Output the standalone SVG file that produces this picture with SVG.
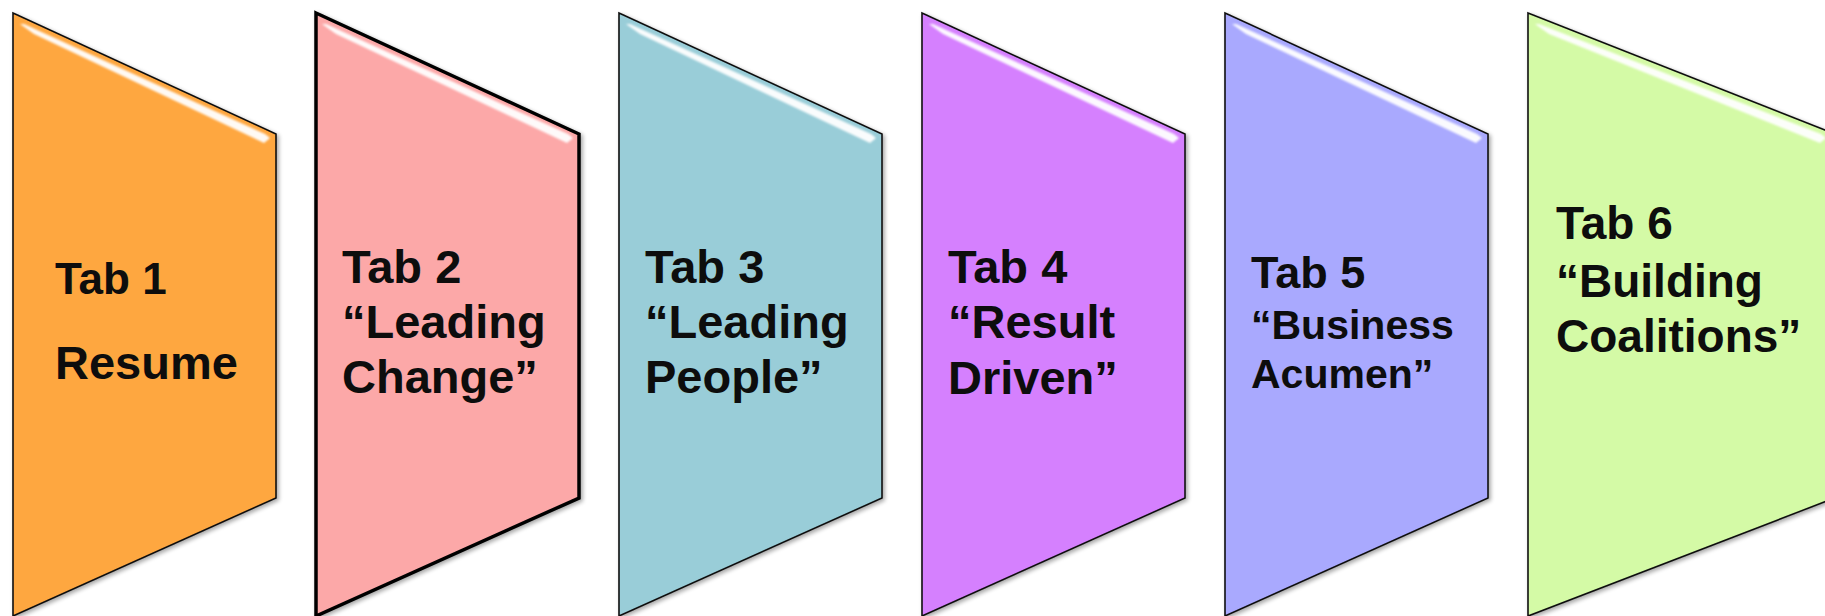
<svg xmlns="http://www.w3.org/2000/svg" width="1825" height="616" viewBox="0 0 1825 616">
  <defs>
    <filter id="shadow" x="-10%" y="-10%" width="120%" height="120%">
      <feGaussianBlur in="SourceAlpha" stdDeviation="2"/>
      <feOffset dx="2" dy="2" result="off"/>
      <feComponentTransfer><feFuncA type="linear" slope="0.35"/></feComponentTransfer>
      <feMerge><feMergeNode/><feMergeNode in="SourceGraphic"/></feMerge>
    </filter>
    <filter id="soft" x="-5%" y="-50%" width="110%" height="200%">
      <feGaussianBlur stdDeviation="1.2"/>
    </filter>
  </defs>
  <style>
    .panel { stroke: #111; stroke-width: 1.6; stroke-linejoin: miter; }
    .bold-edge { stroke: #000; stroke-width: 3.5; }
    .gloss { fill: #ffffff; opacity: 0.95; }
    .label { font-family: "Liberation Sans", Arial, sans-serif; font-weight: bold; fill: #0d0d0d; }
  </style>

  <rect width="1825" height="616" fill="#ffffff"/>

  <!-- Tab 1 -->
  <g id="tab1">
    <polygon class="panel" filter="url(#shadow)" fill="#FEA741" points="13,13 276,134 276,498 13,616"/>
    <polygon class="gloss" filter="url(#soft)" points="20,24 34,34 264,143 270,138 265,134 24,24"/>
    <text class="label" font-size="44" x="55" y="294">Tab 1</text>
    <text class="label" font-size="47" x="55" y="379">Resume</text>
  </g>

  <!-- Tab 2 -->
  <g id="tab2">
    <polygon class="panel bold-edge" filter="url(#shadow)" fill="#FCA8A8" points="316,13 579,134 579,498 316,616"/>
    <polygon class="gloss" filter="url(#soft)" points="322,24 336,34 567,143 573,138 568,134 326,24"/>
    <text class="label" font-size="47" x="342" y="283">Tab 2</text>
    <text class="label" font-size="47" x="342" y="338">“Leading</text>
    <text class="label" font-size="47" x="342" y="393">Change”</text>
  </g>

  <!-- Tab 3 -->
  <g id="tab3">
    <polygon class="panel" filter="url(#shadow)" fill="#99CDD8" points="619,13 882,134 882,498 619,616"/>
    <polygon class="gloss" filter="url(#soft)" points="626,24 640,34 870,143 876,138 871,134 630,24"/>
    <text class="label" font-size="47" x="645" y="283">Tab 3</text>
    <text class="label" font-size="47" x="645" y="338">“Leading</text>
    <text class="label" font-size="47" x="645" y="393">People”</text>
  </g>

  <!-- Tab 4 -->
  <g id="tab4">
    <polygon class="panel" filter="url(#shadow)" fill="#D580FE" points="922,13 1185,134 1185,498 922,616"/>
    <polygon class="gloss" filter="url(#soft)" points="929,24 943,34 1173,143 1179,138 1174,134 933,24"/>
    <text class="label" font-size="47" x="948" y="283">Tab 4</text>
    <text class="label" font-size="47" x="948" y="338">“Result</text>
    <text class="label" font-size="47" x="948" y="394">Driven”</text>
  </g>

  <!-- Tab 5 -->
  <g id="tab5">
    <polygon class="panel" filter="url(#shadow)" fill="#A9A9FE" points="1225,13 1488,134 1488,498 1225,616"/>
    <polygon class="gloss" filter="url(#soft)" points="1232,24 1246,34 1476,143 1482,138 1477,134 1236,24"/>
    <text class="label" font-size="45" x="1251" y="288">Tab 5</text>
    <text class="label" font-size="41" x="1251" y="339">“Business</text>
    <text class="label" font-size="41" x="1251" y="388">Acumen”</text>
  </g>

  <!-- Tab 6 (runs past the right border) -->
  <g id="tab6">
    <polygon class="panel" filter="url(#shadow)" fill="#D4FAA6" points="1528,13 1840,136 1840,496 1528,616"/>
    <polygon class="gloss" filter="url(#soft)" points="1535,24 1549,34 1820,143 1826,138 1821,134 1539,24"/>
    <text class="label" font-size="46" x="1556" y="239">Tab 6</text>
    <text class="label" font-size="46" x="1556" y="297">“Building</text>
    <text class="label" font-size="46" x="1556" y="352">Coalitions”</text>
  </g>

  <g id="connectors"/>
</svg>
